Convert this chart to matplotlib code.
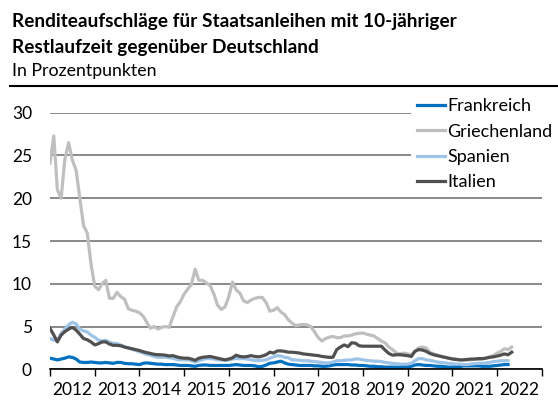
import numpy as np
import pandas as pd
import matplotlib
matplotlib.use("Agg")
import matplotlib.pyplot as plt
import matplotlib.dates as mdates
from matplotlib.lines import Line2D

plt.rcParams['font.family'] = ['Lato', 'DejaVu Sans']

# monthly spreads vs. Bund, percentage points, starting Jan 2012
frankreich = [1.3, 1.2, 1.1, 1.2, 1.3, 1.45, 1.4, 1.2, 0.85, 0.8, 0.8, 0.85,
              0.8, 0.75, 0.75, 0.8, 0.75, 0.7, 0.8, 0.8, 0.7, 0.65, 0.65, 0.6,
              0.55, 0.7, 0.75, 0.7, 0.65, 0.6, 0.6, 0.55, 0.55, 0.55, 0.5, 0.45,
              0.45, 0.45, 0.4, 0.35, 0.45, 0.5, 0.5, 0.45, 0.45, 0.45, 0.45, 0.45,
              0.45, 0.5, 0.55, 0.5, 0.45, 0.45, 0.45, 0.4, 0.3, 0.35, 0.5, 0.7,
              0.75, 0.85, 0.95, 0.75, 0.6, 0.55, 0.5, 0.45, 0.45, 0.45, 0.45, 0.4,
              0.4, 0.35, 0.35, 0.4, 0.5, 0.55, 0.55, 0.55, 0.55, 0.5, 0.5, 0.45,
              0.45, 0.4, 0.35, 0.35, 0.3, 0.3, 0.25, 0.25, 0.25, 0.25, 0.25, 0.3,
              0.3, 0.35, 0.5, 0.55, 0.5, 0.45, 0.45, 0.4, 0.35, 0.35, 0.3, 0.25,
              0.25, 0.3, 0.3, 0.4, 0.4, 0.4, 0.4, 0.4, 0.35, 0.35, 0.35, 0.4,
              0.45, 0.5, 0.55, 0.55]

griechenland = [24.1, 27.3, 21.0, 20.0, 24.5, 26.5, 24.5, 23.3, 20.0, 16.8, 15.9, 12.3,
                9.7, 9.3, 10.0, 10.4, 8.3, 8.3, 9.0, 8.5, 8.2, 7.1, 6.9, 6.8,
                6.6, 6.2, 5.5, 4.8, 5.0, 4.7, 4.9, 5.0, 4.9, 6.1, 7.3, 7.9,
                8.8, 9.4, 9.9, 11.7, 10.4, 10.4, 10.1, 9.8, 8.8, 7.5, 7.0, 7.3,
                8.5, 10.2, 9.3, 8.9, 8.0, 7.8, 8.1, 8.3, 8.4, 8.4, 7.8, 6.8,
                6.9, 7.2, 6.7, 6.4, 5.8, 5.4, 5.1, 5.2, 5.25, 5.2, 5.0, 4.4,
                3.7, 3.3, 3.6, 3.75, 3.85, 3.7, 3.7, 3.9, 3.9, 4.0, 4.15, 4.2,
                4.25, 4.1, 4.0, 3.9, 3.6, 3.3, 3.1, 2.6, 2.3, 1.9, 1.8, 1.9,
                1.8, 1.7, 2.1, 2.5, 2.6, 2.5, 2.0, 1.8, 1.65, 1.5, 1.4, 1.3,
                1.25, 1.2, 1.1, 1.1, 1.1, 1.1, 1.15, 1.15, 1.2, 1.3, 1.45, 1.6,
                1.9, 2.1, 2.4, 2.3, 2.6]

spanien = [3.6, 3.4, 3.4, 4.2, 4.7, 5.2, 5.5, 5.3, 4.7, 4.5, 4.35, 4.0,
           3.75, 3.4, 3.3, 3.4, 3.15, 3.05, 3.0, 2.85, 2.65, 2.5, 2.35, 2.2,
           2.05, 1.9, 1.75, 1.65, 1.5, 1.4, 1.4, 1.4, 1.35, 1.3, 1.15, 1.1,
           1.1, 1.1, 1.0, 0.85, 1.0, 1.15, 1.25, 1.25, 1.2, 1.1, 1.1, 1.05,
           1.1, 1.2, 1.25, 1.25, 1.25, 1.2, 1.1, 1.05, 1.0, 1.05, 1.1, 1.3,
           1.45, 1.6, 1.55, 1.4, 1.35, 1.1, 1.1, 1.05, 1.0, 1.0, 0.95, 0.9,
           0.85, 0.8, 0.75, 0.75, 0.85, 1.0, 1.0, 1.05, 1.1, 1.1, 1.2, 1.2,
           1.1, 1.05, 1.0, 0.95, 0.95, 0.9, 0.8, 0.75, 0.7, 0.65, 0.6, 0.6,
           0.6, 0.7, 1.0, 1.25, 1.25, 1.1, 1.05, 0.95, 0.85, 0.8, 0.75, 0.7,
           0.65, 0.6, 0.6, 0.55, 0.55, 0.6, 0.65, 0.7, 0.7, 0.75, 0.8, 0.9,
           0.95, 1.0, 1.0, 1.0]

italien = [4.8, 4.0, 3.2, 4.0, 4.4, 4.7, 4.9, 4.6, 4.1, 3.6, 3.45, 3.2,
           2.85, 3.0, 3.2, 3.2, 2.95, 2.8, 2.8, 2.75, 2.6, 2.5, 2.4, 2.3,
           2.2, 2.05, 1.95, 1.85, 1.75, 1.7, 1.7, 1.65, 1.55, 1.6, 1.45, 1.35,
           1.3, 1.3, 1.2, 1.05, 1.3, 1.4, 1.45, 1.5, 1.4, 1.3, 1.2, 1.1,
           1.2, 1.35, 1.65, 1.5, 1.45, 1.5, 1.6, 1.5, 1.45, 1.55, 1.7, 2.0,
           1.9, 2.15, 2.15, 2.1, 2.0, 2.0, 1.95, 1.9, 1.8, 1.75, 1.7, 1.65,
           1.6, 1.5, 1.45, 1.4, 1.4, 2.3, 2.6, 2.85, 2.65, 3.1, 3.05, 2.75,
           2.7, 2.7, 2.7, 2.7, 2.7, 2.7, 2.25, 1.85, 1.65, 1.7, 1.7, 1.65,
           1.6, 1.5, 2.1, 2.3, 2.25, 2.1, 1.85, 1.7, 1.6, 1.5, 1.4, 1.3,
           1.2, 1.15, 1.1, 1.1, 1.15, 1.2, 1.2, 1.25, 1.25, 1.3, 1.4, 1.45,
           1.55, 1.65, 1.8, 1.7, 2.0]

series = [
    ("Frankreich", frankreich, "#0070c0"),
    ("Griechenland", griechenland, "#bfbfbf"),
    ("Spanien", spanien, "#9dc3e6"),
    ("Italien", italien, "#505050"),
]

fig = plt.figure(figsize=(5.58, 4.0), dpi=100)
ax = fig.add_axes([50 / 558, 1 - 369.3 / 400, 491.7 / 558, 256.6 / 400])

for name, vals, col in series:
    dates = pd.date_range("2012-01-01", periods=len(vals), freq="MS")
    ax.plot(dates, vals, color=col, lw=2.3, label=name, solid_joinstyle="round")

ax.set_ylim(0, 30)
ax.set_yticks(range(0, 31, 5))
ax.set_xlim(pd.Timestamp("2012-01-01"), pd.Timestamp("2023-01-01"))
ax.xaxis.set_major_locator(mdates.YearLocator())
ax.xaxis.set_major_formatter(plt.NullFormatter())
ax.xaxis.set_minor_locator(mdates.MonthLocator(bymonth=7))
ax.xaxis.set_minor_formatter(mdates.DateFormatter("%Y"))
ax.tick_params(axis="x", which="major", length=5, width=1, color="black", direction="out")
ax.tick_params(axis="x", which="minor", length=0, pad=9, labelsize=12.5)
ax.tick_params(axis="y", length=0, pad=13, labelsize=12.5)

ax.grid(axis="y", color="#808080", lw=1.3)
ax.set_axisbelow(True)
for s in ["top", "right", "left"]:
    ax.spines[s].set_visible(False)
ax.spines["bottom"].set_color("black")
ax.spines["bottom"].set_linewidth(1.2)
ax.spines["bottom"].set_zorder(5)

leg = ax.legend(loc="upper left", bbox_to_anchor=(411 / 558, 1 - 92 / 400),
                bbox_transform=fig.transFigure, frameon=True, fancybox=False,
                edgecolor="none", facecolor="white", framealpha=1,
                fontsize=13, handlelength=1.55, handletextpad=0.12,
                labelspacing=0.52, borderpad=0.35, borderaxespad=0)

fig.text(12 / 558, 1 - 27 / 400, "Renditeaufschläge für Staatsanleihen mit 10-jähriger",
         fontsize=13.7, fontweight="bold", va="baseline")
fig.text(12 / 558, 1 - 53 / 400, "Restlaufzeit gegenüber Deutschland",
         fontsize=13.7, fontweight="bold", va="baseline")
fig.text(12 / 558, 1 - 76 / 400, "In Prozentpunkten", fontsize=12.8, va="baseline")
fig.add_artist(Line2D([10 / 558, 1], [1 - 86 / 400, 1 - 86 / 400], color="black", lw=1.5,
                      transform=fig.transFigure))

fig.savefig("out.png", dpi=100)
